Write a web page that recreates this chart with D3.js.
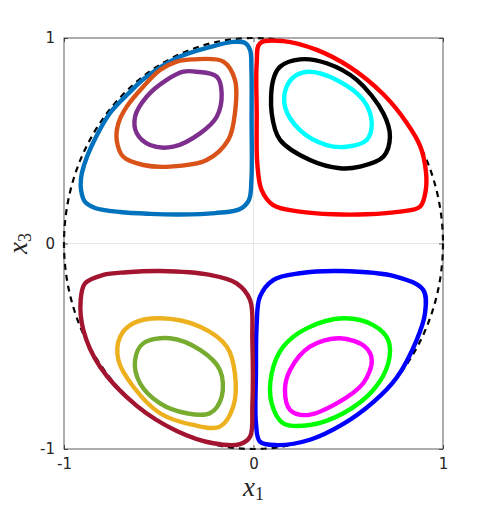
<!DOCTYPE html>
<html>
  <head>
    <meta charset="utf-8">
    <script src="https://d3js.org/d3.v7.min.js"></script>
    <style>
      body { margin: 0; background: #fff; }
      .tick text { font-family: "DejaVu Sans", sans-serif; font-size: 15px; fill: #262626; }
      .tick line { stroke: #262626; stroke-width: 0.75; }
    </style>
  </head>
  <body>
  </body>
</html>

<script>
  var width = 490
  var height = 507
  var margin = {left: 64, right: 47, top: 38, bottom: 58}

  var tickValues = [-1, 0, 1]
  var tickLabels = ["-1", "0", "1"]

  // orbits in (x1, x3) units
  var blueTL = [[-0.108,0.981],[-0.045,0.976],[-0.018,0.942],[-0.011,0.844],[-0.010,0.601],[-0.011,0.309],[-0.024,0.212],[-0.071,0.168],[-0.203,0.148],[-0.388,0.141],[-0.546,0.144],[-0.704,0.153],[-0.836,0.173],[-0.889,0.202],[-0.910,0.260],[-0.910,0.319],[-0.894,0.382],[-0.852,0.479],[-0.757,0.635],[-0.652,0.737],[-0.573,0.805],[-0.404,0.903],[-0.230,0.956]]
  var orangeTL = [[-0.318,0.896],[-0.159,0.885],[-0.098,0.796],[-0.098,0.634],[-0.133,0.504],[-0.247,0.406],[-0.441,0.374],[-0.582,0.382],[-0.687,0.422],[-0.722,0.504],[-0.713,0.585],[-0.669,0.666],[-0.582,0.763],[-0.493,0.844],[-0.405,0.885]]
  var purpleTL = [[-0.300,0.836],[-0.194,0.812],[-0.168,0.731],[-0.194,0.617],[-0.282,0.536],[-0.423,0.471],[-0.546,0.479],[-0.616,0.536],[-0.625,0.617],[-0.564,0.714],[-0.458,0.796],[-0.370,0.836]]
  var redTR = [[0.034,0.974],[0.157,0.985],[0.334,0.942],[0.509,0.858],[0.685,0.726],[0.808,0.588],[0.879,0.475],[0.909,0.358],[0.909,0.260],[0.879,0.179],[0.773,0.155],[0.597,0.142],[0.421,0.142],[0.245,0.155],[0.104,0.187],[0.043,0.260],[0.020,0.390],[0.017,0.634],[0.017,0.877]]
  var blackTR = [[0.245,0.896],[0.386,0.877],[0.545,0.796],[0.685,0.634],[0.720,0.520],[0.685,0.422],[0.562,0.374],[0.456,0.366],[0.298,0.406],[0.140,0.504],[0.096,0.634],[0.104,0.796],[0.140,0.860]]
  var cyanTR = [[0.298,0.836],[0.439,0.796],[0.579,0.698],[0.624,0.585],[0.597,0.504],[0.492,0.471],[0.386,0.479],[0.245,0.552],[0.166,0.666],[0.175,0.763],[0.228,0.820]]
  var blueBR = [[0.456,-0.134],[0.756,-0.162],[0.896,-0.226],[0.905,-0.340],[0.861,-0.470],[0.756,-0.652],[0.632,-0.772],[0.474,-0.878],[0.298,-0.955],[0.122,-0.981],[0.034,-0.964],[0.013,-0.875],[0.013,-0.632],[0.017,-0.388],[0.034,-0.259],[0.104,-0.178],[0.245,-0.145]]
  var greenBR = [[0.474,-0.364],[0.632,-0.397],[0.711,-0.470],[0.711,-0.583],[0.632,-0.713],[0.474,-0.826],[0.298,-0.883],[0.157,-0.875],[0.096,-0.778],[0.096,-0.632],[0.157,-0.502],[0.281,-0.413]]
  var magentaBR = [[0.456,-0.461],[0.588,-0.502],[0.624,-0.567],[0.579,-0.680],[0.439,-0.778],[0.281,-0.835],[0.193,-0.810],[0.166,-0.713],[0.193,-0.616],[0.298,-0.502]]
  var darkredBL = [[-0.493,-0.134],[-0.230,-0.153],[-0.089,-0.194],[-0.018,-0.275],[-0.006,-0.470],[-0.006,-0.794],[-0.018,-0.940],[-0.071,-0.976],[-0.212,-0.972],[-0.405,-0.912],[-0.616,-0.790],[-0.810,-0.600],[-0.898,-0.421],[-0.912,-0.275],[-0.889,-0.194],[-0.793,-0.153],[-0.669,-0.140]]
  var yellowBL = [[-0.493,-0.364],[-0.282,-0.405],[-0.141,-0.502],[-0.098,-0.632],[-0.107,-0.794],[-0.177,-0.891],[-0.318,-0.883],[-0.493,-0.826],[-0.634,-0.697],[-0.713,-0.567],[-0.704,-0.454],[-0.634,-0.388]]
  var oliveBL = [[-0.441,-0.461],[-0.282,-0.518],[-0.177,-0.616],[-0.168,-0.746],[-0.230,-0.826],[-0.353,-0.826],[-0.493,-0.778],[-0.599,-0.680],[-0.625,-0.567],[-0.582,-0.486]]

  var orbits = [
    {pts: blueTL, color: "#0072BD"},
    {pts: orangeTL, color: "#D95319"},
    {pts: purpleTL, color: "#7E2F8E"},
    {pts: redTR, color: "#FF0000"},
    {pts: blackTR, color: "#000000"},
    {pts: cyanTR, color: "#00FFFF"},
    {pts: blueBR, color: "#0000FF"},
    {pts: greenBR, color: "#00FF00"},
    {pts: magentaBR, color: "#FF00FF"},
    {pts: darkredBL, color: "#A2142F"},
    {pts: yellowBL, color: "#EDB120"},
    {pts: oliveBL, color: "#77AC30"}
  ]

  var x = d3.scaleLinear()
            .domain([-1, 1])
            .range([margin.left, width - margin.right])

  var y = d3.scaleLinear()
            .domain([-1, 1])
            .range([height - margin.bottom, margin.top])

  var svg = d3.select("body")
              .append("svg")
              .attr("width", width)
              .attr("height", height)

  // grid at zero
  svg.append("line")
     .attr("x1", x(0)).attr("x2", x(0))
     .attr("y1", y(-1)).attr("y2", y(1))
     .attr("stroke", "#dfdfdf").attr("stroke-width", 0.75)
  svg.append("line")
     .attr("x1", x(-1)).attr("x2", x(1))
     .attr("y1", y(0)).attr("y2", y(0))
     .attr("stroke", "#dfdfdf").attr("stroke-width", 0.75)

  // unit circle
  svg.append("ellipse")
     .attr("cx", x(0))
     .attr("cy", y(0))
     .attr("rx", x(1) - x(0))
     .attr("ry", y(0) - y(1))
     .attr("fill", "none")
     .attr("stroke", "#000")
     .attr("stroke-width", 2.2)
     .attr("stroke-dasharray", "6,5")

  var line = d3.line()
               .x(function(d) { return x(d[0]); })
               .y(function(d) { return y(d[1]); })
               .curve(d3.curveCatmullRomClosed.alpha(0.5))

  svg.selectAll("path.orbit")
     .data(orbits)
     .enter()
     .append("path")
     .attr("class", "orbit")
     .attr("d", function(d) { return line(d.pts); })
     .attr("fill", "none")
     .attr("stroke", function(d) { return d.color; })
     .attr("stroke-width", 4.4)
     .attr("stroke-linejoin", "round")

  // axes
  var fmt = function(d, i) { return tickLabels[i]; }

  svg.append("g")
     .attr("transform", "translate(0," + y(-1) + ")")
     .call(d3.axisBottom(x).tickValues(tickValues).tickFormat(fmt).tickSize(-4).tickPadding(9))
     .call(function(g) { g.select(".domain").remove(); })

  svg.append("g")
     .attr("transform", "translate(" + x(-1) + ",0)")
     .call(d3.axisLeft(y).tickValues(tickValues).tickFormat(fmt).tickSize(-4).tickPadding(9))
     .call(function(g) { g.select(".domain").remove(); })

  svg.append("g")
     .attr("transform", "translate(0," + y(1) + ")")
     .call(d3.axisTop(x).tickValues(tickValues).tickFormat("").tickSize(-4))
     .call(function(g) { g.select(".domain").remove(); })

  svg.append("g")
     .attr("transform", "translate(" + x(1) + ",0)")
     .call(d3.axisRight(y).tickValues(tickValues).tickFormat("").tickSize(-4))
     .call(function(g) { g.select(".domain").remove(); })

  svg.append("rect")
     .attr("x", x(-1)).attr("y", y(1))
     .attr("width", x(1) - x(-1))
     .attr("height", y(-1) - y(1))
     .attr("fill", "none")
     .attr("stroke", "#262626")
     .attr("stroke-width", 0.75)

  // axis labels
  var xl = svg.append("text")
              .attr("x", x(0))
              .attr("y", 496)
              .attr("text-anchor", "middle")
              .attr("font-family", "Liberation Serif, serif")
              .attr("font-size", 27)
              .attr("fill", "#262626")
  xl.append("tspan").attr("font-style", "italic").text("x")
  xl.append("tspan").attr("font-size", 18).attr("dy", 4).text("1")

  var yl = svg.append("text")
              .attr("transform", "translate(27," + y(0) + ") rotate(-90)")
              .attr("text-anchor", "middle")
              .attr("font-family", "Liberation Serif, serif")
              .attr("font-size", 27)
              .attr("fill", "#262626")
  yl.append("tspan").attr("font-style", "italic").text("x")
  yl.append("tspan").attr("font-size", 18).attr("dy", 4).text("3")
</script>
